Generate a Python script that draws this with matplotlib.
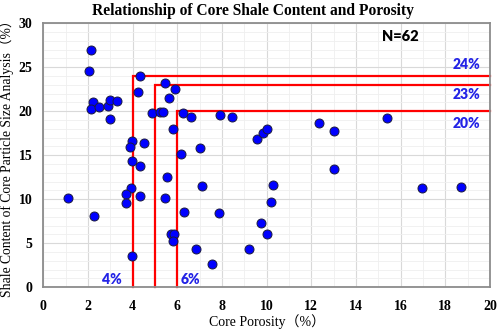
import numpy as np
import matplotlib
matplotlib.use("Agg")
import matplotlib.pyplot as plt
from matplotlib.ticker import MultipleLocator

# -----------------------------------------------------------------------
# Data
# -----------------------------------------------------------------------
porosity = [
    2.14, 2.06, 2.24, 2.15, 2.51, 2.88, 2.97, 3.30, 2.97, 4.34,
    4.25, 5.45, 5.90, 5.63, 4.88, 5.22, 5.34, 6.27, 6.62, 7.91,
    8.45, 5.81, 9.55, 9.82, 10.03, 3.98, 3.88, 4.52, 6.16, 7.00,
    3.97, 4.34, 12.34, 13.00, 15.40, 13.00, 5.52, 7.09, 3.94, 3.72,
    4.32, 1.09, 5.43, 3.70, 10.18, 6.31, 7.85, 2.27, 9.76, 10.01,
    5.72, 5.84, 5.81, 6.84, 9.22, 3.97, 7.56, 10.28, 16.95, 18.70,
]
shale = [
    26.9, 24.6, 21.0, 20.3, 20.5, 20.6, 21.3, 21.2, 19.1, 24.0,
    22.2, 23.25, 22.5, 21.5, 19.8, 19.9, 19.9, 19.8, 19.3, 19.6,
    19.3, 18.0, 16.9, 17.5, 18.0, 16.6, 15.9, 16.4, 15.1, 15.8,
    14.3, 13.8, 18.7, 17.8, 19.2, 13.4, 12.5, 11.5, 11.25, 10.6,
    10.4, 10.1, 10.1, 9.6, 9.7, 8.6, 8.4, 8.1, 7.3, 6.1,
    6.1, 6.1, 5.3, 4.4, 4.35, 3.6, 2.65, 11.6, 11.3, 11.4,
]

# cutoff boxes: porosity cutoff -> shale cutoff
por_cut = [4, 5, 6]
shale_cut = [24, 23, 20]
shale_labels = ["24%", "23%", "20%"]
shale_label_y = [25.3, 21.9, 18.6]
por_labels = ["4%", "6%"]
por_label_x = [3.06, 6.57]

X_MAX, Y_MAX = 20, 30
SERIF = ["Liberation Serif", "Noto Sans CJK SC"]
BLUE_TXT = "#2323e6"

fig = plt.figure(figsize=(4.98, 3.36), dpi=100)
ax = fig.add_axes([0.087, 0.145, 0.897, 0.786])

ax.set_xlim(0, X_MAX)
ax.set_ylim(0, Y_MAX)
ax.xaxis.set_major_locator(MultipleLocator(2))
ax.yaxis.set_major_locator(MultipleLocator(5))
ax.xaxis.set_minor_locator(MultipleLocator(1))
ax.yaxis.set_minor_locator(MultipleLocator(1))
ax.grid(True, which="major", color="#d9d9d9", lw=0.8)
ax.grid(True, which="minor", color="#efefef", lw=0.6)
ax.set_axisbelow(True)
ax.tick_params(which="both", length=0)
ax.tick_params(axis="y", pad=8)
ax.tick_params(axis="x", pad=9)
for lab in ax.get_xticklabels() + ax.get_yticklabels():
    lab.set_fontfamily(SERIF)
    lab.set_fontweight("bold")
    lab.set_fontsize(10)
for sp in ax.spines.values():
    sp.set_color("#8c8c8c")
    sp.set_linewidth(1.3)

# cutoff lines
for pc, sc in zip(por_cut, shale_cut):
    ax.plot([pc, pc, X_MAX], [0, sc, sc], color="red", lw=1.6, zorder=2,
            solid_joinstyle="miter", clip_on=False)

ax.scatter(porosity, shale, s=42, c="#0000ff", edgecolors="#1a1a40",
           linewidths=0.7, zorder=3)

for txt, y in zip(shale_labels, shale_label_y):
    ax.text(19.55, y, txt, color=BLUE_TXT, fontsize=10, fontweight="heavy",
            family="Lato", ha="right", va="center")
for txt, x in zip(por_labels, por_label_x):
    ax.text(x, 0.85, txt, color=BLUE_TXT, fontsize=10, fontweight="heavy",
            family="Lato", ha="center", va="center")

ax.text(15.97, 28.5, "N=62", fontsize=10.5, fontweight="heavy", family="Lato",
        ha="center", va="center")

ax.set_title("Relationship of Core Shale Content and Porosity",
             family=SERIF, fontsize=11.2, fontweight="bold", pad=6, x=0.47)
ax.set_xlabel("Core Porosity（%）", family=SERIF, fontsize=10, labelpad=1)
ax.set_ylabel("Shale Content of Core Particle Size Analysis（%）",
              family=SERIF, fontsize=9.8, labelpad=3)

fig.savefig("out.png", dpi=100)
